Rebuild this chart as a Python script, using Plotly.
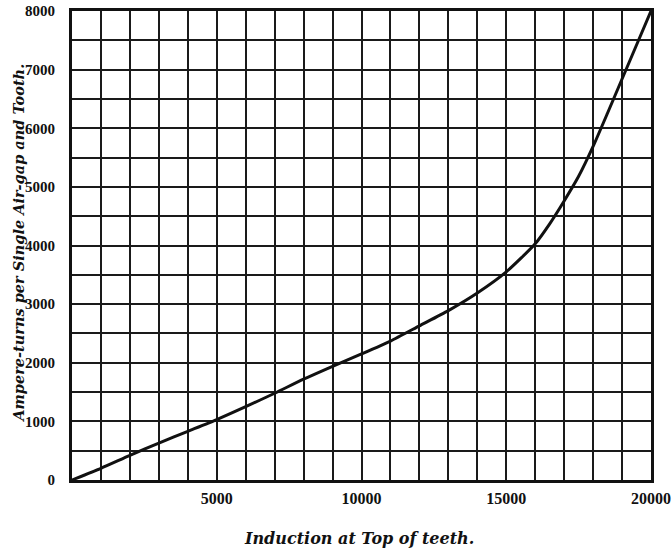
import plotly.graph_objects as go

# Data
induction = [0, 1000, 2000, 3000, 4000, 5000, 6000, 7000, 8000, 9000, 10000,
             11000, 12000, 13000, 14000, 15000, 16000, 16500, 17000, 17500,
             18000, 18500, 19000, 19500, 20000]
ampere_turns = [0, 200, 420, 630, 830, 1030, 1250, 1480, 1720, 1940, 2150,
                2370, 2630, 2890, 3190, 3550, 4030, 4370, 4760, 5180,
                5690, 6260, 6840, 7420, 8000]

x_tickvals = list(range(0, 20001, 1000))
x_ticktext = ["" if v % 5000 or v == 0 else str(v) for v in x_tickvals]
y_tickvals = list(range(0, 8001, 1000))
y_ticktext = [str(v) for v in y_tickvals]

x_title = "Induction at Top of teeth."
y_title = "Ampere-turns per Single Air-gap and Tooth."

serif = "Liberation Serif"
title_font = dict(family="DejaVu Serif", style="italic", weight="bold", color="#111111")

fig = go.Figure()
fig.add_trace(go.Scatter(
    x=induction, y=ampere_turns, mode="lines",
    line=dict(color="#111111", width=3, shape="spline", smoothing=0.6),
    showlegend=False, hoverinfo="skip",
))

fig.update_layout(
    width=672, height=550,
    margin=dict(l=72, r=21, t=11, b=70),
    paper_bgcolor="white", plot_bgcolor="white",
    font=dict(family=serif, color="#111111"),
    xaxis=dict(
        range=[0, 20000], tickmode="array", tickvals=x_tickvals, ticktext=x_ticktext,
        automargin=False,
        showgrid=True, gridcolor="#1a1a1a", gridwidth=2,
        showline=True, linecolor="#111111", linewidth=3, mirror=True,
        zeroline=False, ticks="", ticklabelstandoff=2,
        tickfont=dict(family=serif, size=16, weight="bold", color="#111111"),
    ),
    yaxis=dict(
        range=[0, 8000], tickmode="array", tickvals=y_tickvals, ticktext=y_ticktext,
        automargin=False,
        showgrid=True, gridcolor="#1a1a1a", gridwidth=2,
        minor=dict(dtick=500, showgrid=True, gridcolor="#1a1a1a", gridwidth=2),
        showline=True, linecolor="#111111", linewidth=3, mirror=True,
        zeroline=False, ticks="", ticklabelstandoff=11,
        tickfont=dict(family=serif, size=15, weight="bold", color="#111111"),
    ),
    annotations=[
        dict(text=x_title, xref="paper", yref="paper", x=0.4965, y=-0.124,
             xanchor="center", yanchor="middle", showarrow=False,
             font=dict(size=16, **title_font)),
        dict(text=y_title, xref="paper", yref="paper", x=-0.093, y=0.504,
             xanchor="center", yanchor="middle", showarrow=False, textangle=-90,
             font=dict(size=14.5, **title_font)),
    ],
)

fig.write_html("out.html", config={"displayModeBar": False},
               post_script="document.body.style.margin='0';")
